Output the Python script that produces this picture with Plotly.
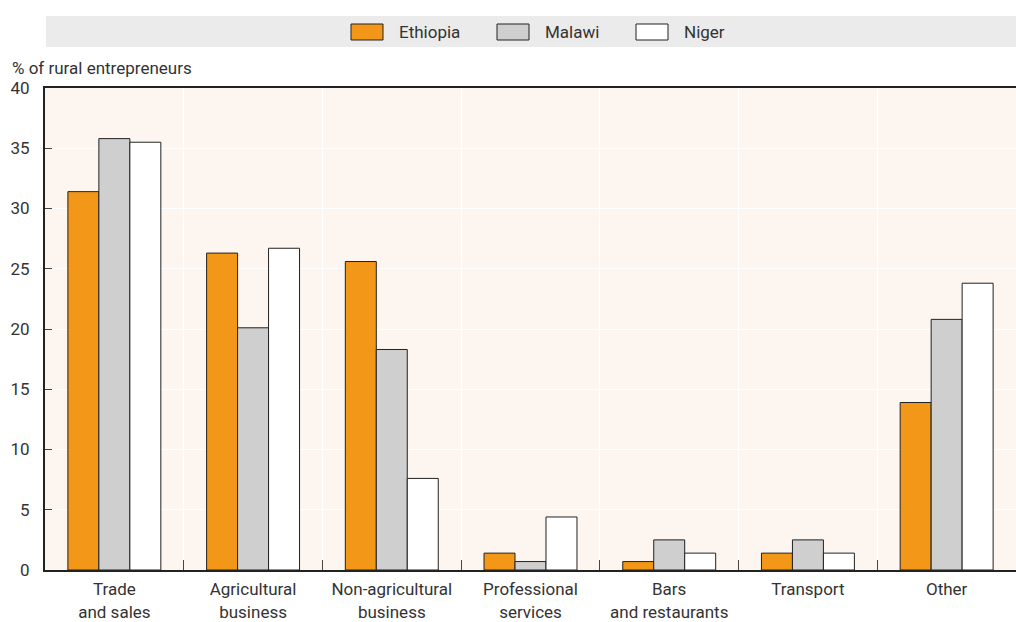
import plotly.graph_objects as go

categories = ["Trade<br>and sales", "Agricultural<br>business", "Non-agricultural<br>business",
              "Professional<br>services", "Bars<br>and restaurants", "Transport", "Other"]
series_names = ["Ethiopia", "Malawi", "Niger"]
ethiopia = [31.4, 26.3, 25.6, 1.4, 0.7, 1.4, 13.9]
malawi = [35.8, 20.1, 18.3, 0.7, 2.5, 2.5, 20.8]
niger = [35.5, 26.7, 7.6, 4.4, 1.4, 1.4, 23.8]
y_ticks = [0, 5, 10, 15, 20, 25, 30, 35, 40]

colors = ["#F39719", "#CFCFCF", "#FFFFFF"]
FONT = "Roboto, Liberation Sans Narrow, sans-serif"
TXT = "#333333"
FS = 17

fig = go.Figure()
for name, vals, col in zip(series_names, [ethiopia, malawi, niger], colors):
    fig.add_trace(go.Bar(x=categories, y=vals, name=name, marker_color=col,
                         marker_line_color="#222222", marker_line_width=1,
                         showlegend=False))

W, H = 1016, 622
L, R, T, B = 45, 0, 88, 52
pw, ph = W - L - R, H - T - B

def px(x):
    return (x - L) / pw

def py(y):
    return (H - B - y) / ph

shapes = [
    dict(type="rect", xref="paper", yref="paper", x0=px(46), x1=px(1016), y0=py(47), y1=py(16),
         fillcolor="#EBEBEB", line_width=0, layer="below"),
]
annotations = [
    dict(text="% of rural entrepreneurs", xref="paper", yref="paper", x=px(10), y=py(68),
         xanchor="left", yanchor="middle", showarrow=False,
         font=dict(family=FONT, size=FS, color=TXT)),
]
leg_x = [351, 497, 636]
for name, col, lx in zip(series_names, colors, leg_x):
    shapes.append(dict(type="rect", xref="paper", yref="paper", x0=px(lx), x1=px(lx + 32),
                       y0=py(40), y1=py(24), fillcolor=col,
                       line=dict(color="#222222", width=1)))
    annotations.append(dict(text=name, xref="paper", yref="paper", x=px(lx + 46), y=py(32),
                            xanchor="left", yanchor="middle", showarrow=False,
                            font=dict(family=FONT, size=FS, color=TXT)))

fig.update_layout(
    width=W, height=H,
    margin=dict(l=L, r=R, t=T, b=B),
    paper_bgcolor="white", plot_bgcolor="#FDF5EF",
    barmode="group", bargap=0.33, bargroupgap=0,
    font=dict(family=FONT, size=FS, color=TXT),
    shapes=shapes, annotations=annotations,
    xaxis=dict(showline=True, linecolor="#222222", linewidth=2, mirror=True,
               tickson="boundaries", ticks="inside", ticklen=10, tickcolor="#444444",
               showgrid=True, gridcolor="white", gridwidth=1, tickangle=0, automargin=False,
               tickfont=dict(family=FONT, size=FS, color=TXT), ticklabelstandoff=3),
    yaxis=dict(range=[0, 40], tickvals=y_ticks, showline=True, linecolor="#222222", linewidth=2,
               ticks="inside", ticklen=7, tickcolor="#444444", automargin=False,
               showgrid=True, gridcolor="white", gridwidth=1, zeroline=False,
               tickfont=dict(family=FONT, size=FS, color=TXT), ticklabelstandoff=10),
)

fig.write_html("out.html", config={"displayModeBar": False},
               post_script="document.body.style.margin='0';document.body.style.overflow='hidden';")
